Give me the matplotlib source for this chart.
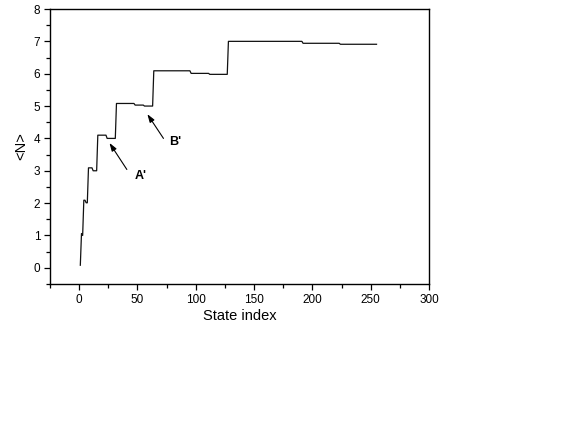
import numpy as np
import matplotlib
matplotlib.use("Agg")
import matplotlib.pyplot as plt
from matplotlib.ticker import MultipleLocator

plt.rcParams["font.family"] = ["Liberation Sans", "DejaVu Sans"]

# step segments: first state index of each plateau and its <N> value
STEP_START = [1, 2, 3, 4, 6, 8, 12, 16, 24, 32, 48, 56, 64, 96, 112, 128, 192, 224]
STEP_VALUE = [0.08, 1.06, 1.00, 2.09, 2.01, 3.09, 3.00, 4.10, 4.00,
              5.08, 5.03, 5.00, 6.09, 6.01, 5.98, 7.00, 6.94, 6.91]
LAST_STATE = 255

ARROW_LABELS = ["A'", "B'"]
ARROW_HEAD = [(26, 3.86), (58.5, 4.75)]
ARROW_TAIL = [(40.9, 3.04), (72.3, 4.00)]
LABEL_POS = [(52.5, 2.85), (82.5, 3.88)]


def expand_steps(starts, values, last):
    ends = starts[1:] + [last + 1]
    idx, vals = [], []
    for s, e, v in zip(starts, ends, values):
        for i in range(s, e):
            idx.append(i)
            vals.append(v)
    return np.array(idx), np.array(vals)


states, occupation = expand_steps(STEP_START, STEP_VALUE, LAST_STATE)

fig = plt.figure(figsize=(5.81, 4.46), dpi=100)
ax = fig.add_axes([50 / 581, 1 - 284 / 446, 379 / 581, 275 / 446])

ax.plot(states, occupation, color="#111111", lw=0.9)

for label, head, tail, pos in zip(ARROW_LABELS, ARROW_HEAD, ARROW_TAIL, LABEL_POS):
    ax.annotate("", xy=head, xytext=tail,
                arrowprops=dict(arrowstyle="-|>,head_length=0.6,head_width=0.2",
                                color="black", lw=0.8,
                                mutation_scale=8, shrinkA=0, shrinkB=0))
    ax.text(pos[0], pos[1], label, fontsize=9, fontweight="bold",
            ha="center", va="center")

ax.set_xlim(-25, 300)
ax.set_ylim(-0.5, 8)
ax.xaxis.set_major_locator(MultipleLocator(50))
ax.xaxis.set_minor_locator(MultipleLocator(25))
ax.yaxis.set_major_locator(MultipleLocator(1))
ax.yaxis.set_minor_locator(MultipleLocator(0.5))
ax.tick_params(which="both", direction="out", top=False, right=False,
               width=0.9, labelsize=8.5, pad=3)
ax.tick_params(which="major", length=4)
ax.tick_params(which="minor", length=3)
for sp in ax.spines.values():
    sp.set_linewidth(1.0)

ax.set_xlabel("State index", fontsize=10.5, labelpad=2.5)
ax.set_ylabel("<N>", fontsize=10.5, labelpad=4)

fig.savefig("out.png", dpi=100)
